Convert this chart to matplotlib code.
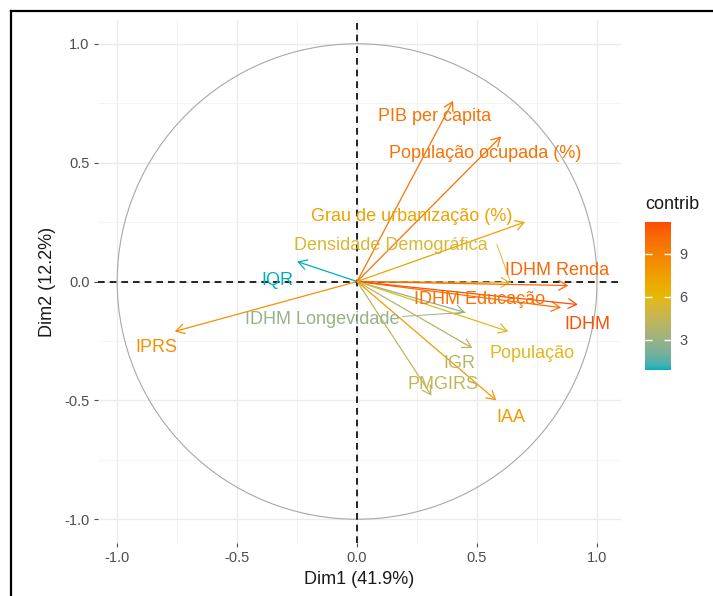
import matplotlib
matplotlib.use("Agg")
import matplotlib.pyplot as plt
import numpy as np
from matplotlib.colors import ListedColormap, Normalize, to_rgb
from matplotlib.lines import Line2D
from matplotlib.patches import Circle

plt.rcParams['font.family'] = ['Liberation Sans', 'DejaVu Sans']

# variable coordinates on Dim1 / Dim2 and their contribution
variables = ['PIB per capita', 'População ocupada (%)', 'Grau de urbanização (%)',
             'Densidade Demográfica', 'IDHM Renda', 'IDHM Educação', 'IDHM',
             'IDHM Longevidade', 'População', 'IGR', 'PMGIRS', 'IAA', 'IQR', 'IPRS']
dim1 = [0.40, 0.60, 0.70, 0.64, 0.88, 0.85, 0.92, 0.45, 0.63, 0.48, 0.31, 0.58, -0.25, -0.76]
dim2 = [0.76, 0.61, 0.25, -0.004, -0.017, -0.11, -0.097, -0.13, -0.21, -0.28, -0.48, -0.50, 0.084, -0.21]
contrib = [9.7, 9.8, 7.3, 5.4, 10.2, 9.8, 11.2, 2.9, 5.8, 4.1, 4.4, 7.7, 0.9, 8.2]
gradient_cols = ['#00AFBB', '#E7B800', '#FC4E07']

# label placement (repelled labels), in data units
label_pos = {
    'PIB per capita': (0.323, 0.693),
    'População ocupada (%)': (0.535, 0.538),
    'Grau de urbanização (%)': (0.229, 0.273),
    'Densidade Demográfica': (0.142, 0.151),
    'IDHM Renda': (0.835, 0.046),
    'IDHM Educação': (0.51, -0.076),
    'IDHM': (0.96, -0.181),
    'IDHM Longevidade': (-0.144, -0.160),
    'População': (0.731, -0.303),
    'IGR': (0.425, -0.345),
    'PMGIRS': (0.358, -0.433),
    'IAA': (0.642, -0.571),
    'IQR': (-0.333, 0.004),
    'IPRS': (-0.835, -0.277),
}
# start of the leader segments for labels pushed away from their arrow
leader_start = {
    'Densidade Demográfica': (0.583, 0.155),
    'IDHM Longevidade': (0.19, -0.147),
}


# ggplot interpolates gradients in Lab space, so do the same here
def srgb_to_lab(rgb):
    rgb = np.asarray(rgb, float)
    lin = np.where(rgb <= 0.04045, rgb / 12.92, ((rgb + 0.055) / 1.055) ** 2.4)
    m = np.array([[0.4124, 0.3576, 0.1805],
                  [0.2126, 0.7152, 0.0722],
                  [0.0193, 0.1192, 0.9505]])
    xyz = lin @ m.T / np.array([0.95047, 1.0, 1.08883])
    f = np.where(xyz > 0.008856, np.cbrt(xyz), 7.787 * xyz + 16 / 116)
    return np.stack([116 * f[..., 1] - 16,
                     500 * (f[..., 0] - f[..., 1]),
                     200 * (f[..., 1] - f[..., 2])], axis=-1)


def lab_to_srgb(lab):
    lab = np.asarray(lab, float)
    fy = (lab[..., 0] + 16) / 116
    fx = fy + lab[..., 1] / 500
    fz = fy - lab[..., 2] / 200
    f = np.stack([fx, fy, fz], axis=-1)
    xyz = np.where(f ** 3 > 0.008856, f ** 3, (f - 16 / 116) / 7.787)
    xyz = xyz * np.array([0.95047, 1.0, 1.08883])
    m = np.array([[3.2406, -1.5372, -0.4986],
                  [-0.9689, 1.8758, 0.0415],
                  [0.0557, -0.2040, 1.0570]])
    lin = xyz @ m.T
    rgb = np.where(lin <= 0.0031308, 12.92 * lin, 1.055 * np.clip(lin, 0, None) ** (1 / 2.4) - 0.055)
    return np.clip(rgb, 0, 1)


labs = srgb_to_lab([to_rgb(c) for c in gradient_cols])
t = np.linspace(0, 1, 256)
stops = np.linspace(0, 1, len(gradient_cols))
lab_t = np.stack([np.interp(t, stops, labs[:, k]) for k in range(3)], axis=-1)
cmap = ListedColormap(lab_to_srgb(lab_t))
norm = Normalize(vmin=min(contrib), vmax=max(contrib))

W, H = 713, 596
fig = plt.figure(figsize=(W / 100, H / 100), dpi=100)
ax = fig.add_axes([98 / W, 1 - 543 / H, 523 / W, 523 / H])
ax.set_xlim(-1.08, 1.10)
ax.set_ylim(-1.10, 1.10)

for s in ax.spines.values():
    s.set_visible(False)
ax.set_xticks([-1.0, -0.5, 0.0, 0.5, 1.0])
ax.set_yticks([-1.0, -0.5, 0.0, 0.5, 1.0])
ax.set_xticklabels(['-1.0', '-0.5', '0.0', '0.5', '1.0'])
ax.set_yticklabels(['-1.0', '-0.5', '0.0', '0.5', '1.0'])
ax.set_xticks([-0.75, -0.25, 0.25, 0.75], minor=True)
ax.set_yticks([-0.75, -0.25, 0.25, 0.75], minor=True)
ax.tick_params(which='major', length=3, width=0.8, color='#4D4D4D', labelcolor='#4D4D4D',
               labelsize=10.5, pad=3)
ax.tick_params(which='minor', length=0)
ax.grid(which='major', color='#EBEBEB', lw=1.0)
ax.grid(which='minor', color='#F3F3F3', lw=0.6)
ax.set_axisbelow(True)

ax.add_patch(Circle((0, 0), 1.0, fill=False, edgecolor='#A8A8A8', lw=0.8, zorder=2))
ax.axhline(0, color='black', ls=(0, (4, 3)), lw=1.2, zorder=3)
ax.axvline(0, color='black', ls=(0, (4, 3)), lw=1.2, zorder=3)

for name, x, y, c in zip(variables, dim1, dim2, contrib):
    col = cmap(norm(c))
    ax.annotate('', xy=(x, y), xytext=(0, 0),
                arrowprops=dict(arrowstyle='->,head_length=0.6,head_width=0.35',
                                color=col, lw=0.9, shrinkA=0, shrinkB=0,
                                mutation_scale=10),
                zorder=4)
    lx, ly = label_pos[name]
    if name in leader_start:
        sx, sy = leader_start[name]
        ax.plot([sx, x], [sy, y], color=col, lw=0.7, zorder=4)
    ax.text(lx, ly, name, color=col, fontsize=13, ha='center', va='center', zorder=5)

ax.set_xlabel('Dim1 (41.9%)', fontsize=13, color='#1A1A1A', labelpad=4)
ax.set_ylabel('Dim2 (12.2%)', fontsize=13, color='#1A1A1A', labelpad=6)

# colour bar
cax = fig.add_axes([645 / W, 1 - 370 / H, 26 / W, 148 / H])
grad = np.linspace(norm.vmin, norm.vmax, 256).reshape(-1, 1)
cax.imshow(grad, cmap=cmap, norm=norm, aspect='auto', origin='lower',
           extent=[0, 1, norm.vmin, norm.vmax])
cax.set_xticks([])
cax.set_yticks([3, 6, 9])
cax.set_yticklabels(['3', '6', '9'])
cax.yaxis.set_ticks_position('both')
cax.tick_params(axis='y', direction='in', length=5, width=1, color='white',
                labelcolor='#4D4D4D', labelsize=10.5, labelleft=False, labelright=True, pad=6)
for s in cax.spines.values():
    s.set_visible(False)
fig.text(672 / W, 1 - 204 / H, 'contrib', fontsize=13, color='#1A1A1A', ha='center', va='center')

# frame lines along the top and left edges of the image
fig.add_artist(Line2D([11 / W, 1], [1 - 11 / H, 1 - 11 / H], color='black', lw=1.6,
                      transform=fig.transFigure))
fig.add_artist(Line2D([11 / W, 11 / W], [0, 1 - 11 / H], color='black', lw=1.6,
                      transform=fig.transFigure))

fig.savefig('out.png', dpi=100, facecolor='white')
